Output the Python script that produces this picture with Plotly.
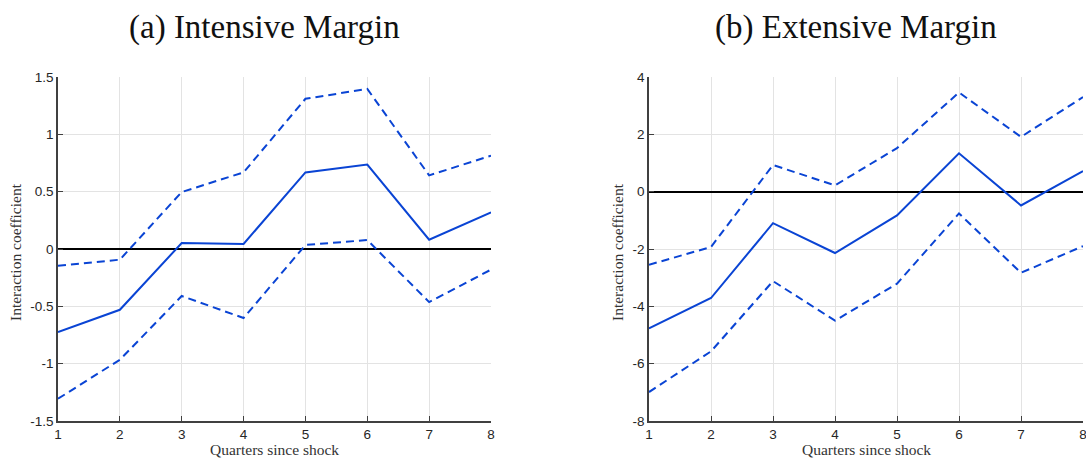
import plotly.graph_objects as go

# Horizon (quarters after the shock)
quarters = [1, 2, 3, 4, 5, 6, 7, 8]

# (a) Intensive margin: point estimate and confidence band
intensive_coef = [-0.724, -0.53, 0.052, 0.044, 0.668, 0.736, 0.081, 0.32]
intensive_upper = [-0.146, -0.093, 0.497, 0.668, 1.31, 1.396, 0.642, 0.814]
intensive_lower = [-1.306, -0.966, -0.41, -0.602, 0.035, 0.078, -0.463, -0.18]

# (b) Extensive margin: point estimate and confidence band
extensive_coef = [-4.77, -3.71, -1.1, -2.14, -0.83, 1.34, -0.48, 0.72]
extensive_upper = [-2.55, -1.93, 0.93, 0.22, 1.52, 3.46, 1.91, 3.30]
extensive_lower = [-6.99, -5.57, -3.12, -4.5, -3.21, -0.76, -2.83, -1.9]

# Tick labels
x_ticks = [1, 2, 3, 4, 5, 6, 7, 8]
x_ticktext = ["1", "2", "3", "4", "5", "6", "7", "8"]
y1_ticks = [-1.5, -1, -0.5, 0, 0.5, 1, 1.5]
y1_ticktext = ["-1.5", "-1", "-0.5", "0", "0.5", "1", "1.5"]
y2_ticks = [-8, -6, -4, -2, 0, 2, 4]
y2_ticktext = ["-8", "-6", "-4", "-2", "0", "2", "4"]

titles = ["(a) Intensive Margin", "(b) Extensive Margin"]
x_title = "Quarters since shock"
y_title = "Interaction coefficient"

BLUE = "#0a44d4"
W, H = 1086, 459
AXIS_COLOR = "#404040"
GRID_COLOR = "#e3e3e3"
TICK_FONT = dict(family="Liberation Sans, Arial, sans-serif", size=13.5, color="#262626")
SERIF = "Liberation Serif, Times New Roman, serif"

fig = go.Figure()

panels = [
    ("x", "y", intensive_coef, intensive_upper, intensive_lower),
    ("x2", "y2", extensive_coef, extensive_upper, extensive_lower),
]
for xa, ya, coef, up, lo in panels:
    for vals, dash in ((up, "8px,5px"), (lo, "8px,5px"), (coef, "solid")):
        fig.add_trace(go.Scatter(
            x=quarters, y=vals, mode="lines", xaxis=xa, yaxis=ya,
            line=dict(color=BLUE, width=2, dash=dash),
            showlegend=False, hoverinfo="skip",
        ))

# Plot-area pixel boxes
left_box = (58, 491)
right_box = (649, 1083)
top_px, bottom_px = 77, 421
ydom = [1 - bottom_px / H, 1 - top_px / H]


def xaxis_cfg(box):
    return dict(
        domain=[box[0] / W, box[1] / W], range=[1, 8],
        tickvals=x_ticks, ticktext=x_ticktext,
        showgrid=True, gridcolor=GRID_COLOR, gridwidth=1,
        showline=True, linecolor=AXIS_COLOR, linewidth=1.5,
        ticks="inside", ticklen=5, tickcolor=AXIS_COLOR, tickwidth=1,
        tickfont=TICK_FONT, zeroline=False, fixedrange=True,
        automargin=False, ticklabeloverflow="allow",
    )


def yaxis_cfg(ticks, text, anchor):
    return dict(
        domain=ydom, range=[ticks[0], ticks[-1]],
        tickvals=ticks, ticktext=text, anchor=anchor,
        showgrid=True, gridcolor=GRID_COLOR, gridwidth=1,
        showline=True, linecolor=AXIS_COLOR, linewidth=1.5,
        ticks="inside", ticklen=5, tickcolor=AXIS_COLOR, tickwidth=1,
        tickfont=TICK_FONT, zeroline=True, zerolinecolor="#000000",
        zerolinewidth=2, fixedrange=True, automargin=False,
        ticklabeloverflow="allow",
    )


fig.update_layout(
    width=W, height=H,
    margin=dict(l=0, r=0, t=0, b=0),
    paper_bgcolor="white", plot_bgcolor="white",
    xaxis=dict(xaxis_cfg(left_box), anchor="y"),
    yaxis=yaxis_cfg(y1_ticks, y1_ticktext, "x"),
    xaxis2=dict(xaxis_cfg(right_box), anchor="y2"),
    yaxis2=yaxis_cfg(y2_ticks, y2_ticktext, "x2"),
)

# Panel titles
for title, cx in zip(titles, (264, 856)):
    fig.add_annotation(
        text=title, x=cx / W, y=1 - 27 / H, xref="paper", yref="paper",
        xanchor="center", yanchor="middle", showarrow=False,
        font=dict(family=SERIF, size=33, color="#111111"),
    )

# Axis titles
for cx, ylx in (((58 + 491) / 2, 15), ((649 + 1083) / 2, 617)):
    fig.add_annotation(
        text=x_title, x=cx / W, y=0, xref="paper", yref="paper",
        xanchor="center", yanchor="bottom", showarrow=False, borderpad=0,
        font=dict(family=SERIF, size=15.5, color="#333333"),
    )
    fig.add_annotation(
        text=y_title, x=ylx / W, y=1 - 252 / H, xref="paper", yref="paper",
        xanchor="center", yanchor="middle", showarrow=False, textangle=-90,
        font=dict(family=SERIF, size=15.5, color="#333333"),
    )

# Drop the default page margin so the figure fills the window exactly
fig.write_html(
    "out.html",
    config={"displayModeBar": False},
    post_script="document.body.style.margin='0';document.body.style.overflow='hidden';",
)
